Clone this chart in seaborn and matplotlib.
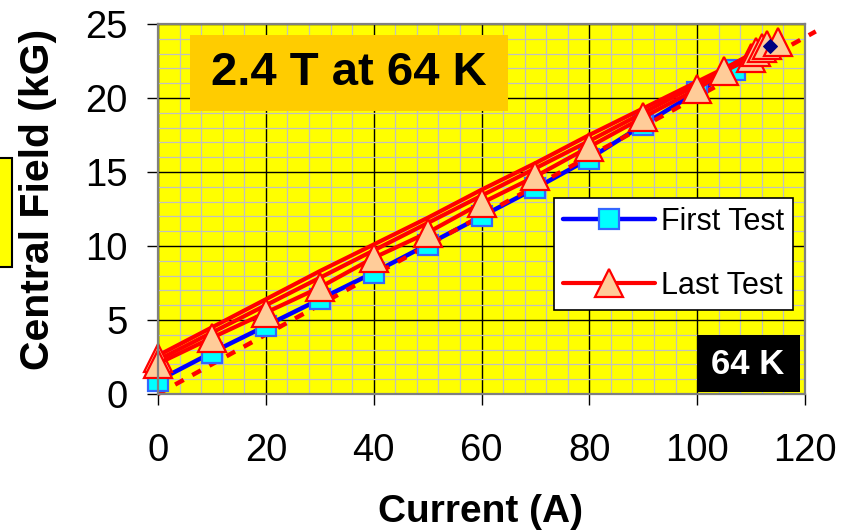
import matplotlib
matplotlib.use("Agg")
import matplotlib.pyplot as plt
from matplotlib.patches import Rectangle
from matplotlib.lines import Line2D
from matplotlib.ticker import MultipleLocator
import seaborn as sns
import pandas as pd

# First test: ramp up only
first_current = [0, 10, 20, 30, 40, 50, 60, 70, 80, 90, 100, 107]
first_field = [0.9, 2.8, 4.6, 6.4, 8.2, 10.1, 12.0, 13.9, 15.9, 18.2, 20.4, 21.9]

# Last test: ramp up (marked), then two ramp-down traces
last_up_current = [0, 10, 20, 30, 40, 50, 60, 70, 80, 90, 100, 105, 110, 111, 112, 113, 115]
last_up_field = [2.05, 3.8, 5.5, 7.2, 9.2, 10.9, 12.9, 14.7, 16.7, 18.7, 20.6, 21.8,
                 22.7, 23.1, 23.4, 23.6, 23.8]
last_down_a_current = [115, 100, 90, 80, 70, 60, 50, 40, 30, 20, 10, 0]
last_down_a_field = [23.8, 21.1, 19.3, 17.5, 15.6, 13.8, 11.9, 10.1, 8.3, 6.4, 4.5, 2.6]
last_down_b_current = [113, 100, 80, 60, 40, 20, 0]
last_down_b_field = [23.6, 20.9, 17.1, 13.4, 9.7, 6.0, 2.3]

# Linear load line and the peak point
fit_current = [0, 122]
fit_field = [0, 24.5]
peak_current = [113.6]
peak_field = [23.5]

sns.set_theme(style="white")
plt.rcParams["font.family"] = ["Liberation Sans", "DejaVu Sans"]
plt.rcParams.update({"text.color": "black", "axes.labelcolor": "black",
                     "xtick.color": "black", "ytick.color": "black"})

W, H = 851, 531
fig = plt.figure(figsize=(W / 100, H / 100), dpi=100)
fig.patch.set_facecolor("white")
L, R, T, B = 158, 805, 24, 394
ax = fig.add_axes([L / W, 1 - B / H, (R - L) / W, (B - T) / H])
ax.set_facecolor("#FFFF00")

RED = "#FF0000"
BLUE = "#0000FF"
SQ = dict(marker="s", markersize=14, markerfacecolor="#00FFFF",
          markeredgecolor="#3366FF", markeredgewidth=1.6)
TRI = dict(marker="^", markersize=20, markerfacecolor="#FFCC99",
           markeredgecolor=RED, markeredgewidth=1.6)

first = pd.DataFrame({"Current": first_current, "Field": first_field})
up = pd.DataFrame({"Current": last_up_current, "Field": last_up_field})
down_a = pd.DataFrame({"Current": last_down_a_current, "Field": last_down_a_field})
down_b = pd.DataFrame({"Current": last_down_b_current, "Field": last_down_b_field})
fit = pd.DataFrame({"Current": fit_current, "Field": fit_field})
peak = pd.DataFrame({"Current": peak_current, "Field": peak_field})

common = dict(x="Current", y="Field", sort=False, estimator=None, ax=ax, legend=False)

# first test line, load line, squares
sns.lineplot(data=first, color=BLUE, lw=3.2, zorder=3, **common)
sns.lineplot(data=fit, color=RED, lw=3.2, zorder=3.2, dashes=False,
             linestyle=(0, (2.2, 2.2)), clip_on=False, **common)
sns.lineplot(data=first, color=BLUE, lw=0, zorder=3.4, clip_on=False, **SQ, **common)

# last test traces
sns.lineplot(data=down_a, color=RED, lw=3.0, zorder=4, **common)
sns.lineplot(data=down_b, color=RED, lw=3.0, zorder=4, **common)
sns.lineplot(data=up, color=RED, lw=3.0, zorder=4.2, clip_on=False, **TRI, **common)
ax.plot([last_down_a_current[-1]], [last_down_a_field[-1] - 0.2], ls="none",
        zorder=4.1, clip_on=False, **TRI)
sns.lineplot(data=peak, color="#000080", lw=0, marker="D", markersize=7,
             markeredgecolor="#000080", zorder=5, **common)

ax.set_xlim(0, 120)
ax.set_ylim(0, 25)
ax.xaxis.set_major_locator(MultipleLocator(20))
ax.xaxis.set_minor_locator(MultipleLocator(4))
ax.yaxis.set_major_locator(MultipleLocator(5))
ax.yaxis.set_minor_locator(MultipleLocator(1))
ax.grid(which="minor", color="#C0C0C0", lw=0.9, zorder=0)
ax.grid(which="major", color="black", lw=1.0, zorder=0.5)
ax.set_axisbelow(True)
ax.tick_params(which="major", direction="out", length=8, width=1, color="black",
               labelsize=27.5, pad=14, left=True, bottom=True, labelcolor="black")
ax.tick_params(axis="x", pad=20)
ax.tick_params(which="minor", length=0)
for s in ax.spines.values():
    s.set_color("#808080")
    s.set_linewidth(1.6)
    s.set_zorder(6)

ax.set_xlabel("Current (A)", fontsize=28, fontweight="bold", va="center")
ax.xaxis.set_label_coords((481 - L) / (R - L), (B - 512) / (B - T))
ax.set_ylabel("Central Field (kG)", fontsize=29.5, fontweight="bold", va="center")
ax.yaxis.set_label_coords((38 - L) / (R - L), (B - 199) / (B - T))


def ax_x(px):
    return (px - L) / (R - L)


def ax_y(py):
    return (B - py) / (B - T)


# title box
ax.add_patch(Rectangle((ax_x(190), ax_y(111)), ax_x(508) - ax_x(190), ax_y(35) - ax_y(111),
                       transform=ax.transAxes, facecolor="#FFCC00", edgecolor="none", zorder=5))
ax.text(ax_x(349), ax_y(73), "2.4 T at 64 K", transform=ax.transAxes, ha="center", va="center",
        fontsize=34, fontweight="bold", color="black", zorder=6)

# temperature tag
ax.add_patch(Rectangle((ax_x(697), ax_y(392)), ax_x(800) - ax_x(697), ax_y(335) - ax_y(392),
                       transform=ax.transAxes, facecolor="black", edgecolor="none", zorder=5))
ax.text(ax_x(748), ax_y(364), "64 K", transform=ax.transAxes, ha="center", va="center",
        fontsize=25, fontweight="bold", color="white", zorder=6)

# legend
handles = [Line2D([], [], color=BLUE, lw=3.2, **SQ),
           Line2D([], [], color=RED, lw=3.0, **TRI)]
leg = ax.legend(handles, ["First Test", "Last Test"], loc="upper right",
                bbox_to_anchor=(793 / W, 1 - 198 / H), bbox_transform=fig.transFigure,
                fontsize=22, frameon=True, fancybox=False, framealpha=1,
                edgecolor="black", borderpad=0.3, labelspacing=1.1,
                handlelength=3.0, handletextpad=0.2, borderaxespad=0)
leg.get_frame().set_linewidth(1.2)
leg.set_zorder(7)
for t in leg.get_texts():
    t.set_color("black")

# partially visible side tag at the left edge
fig.patches.append(Rectangle((-20 / W, 1 - 267 / H), 32 / W, 109 / H, transform=fig.transFigure,
                             facecolor="#FFFF00", edgecolor="black", lw=1.5, figure=fig))

fig.savefig("out.png", dpi=100)
